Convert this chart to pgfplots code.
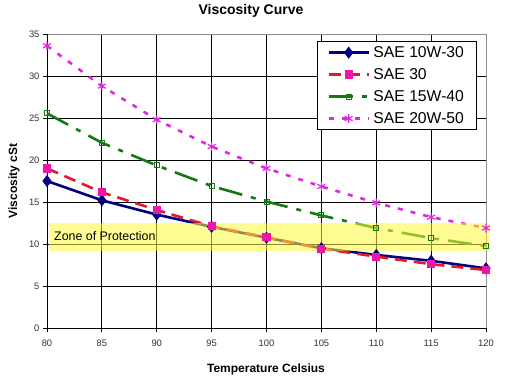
\documentclass[border=0pt]{standalone}
\usepackage{fontspec}
\setmainfont{Liberation Sans}
\usepackage{pgfplots}
\pgfplotsset{compat=1.18}
\definecolor{navyc}{RGB}{0,0,128}
\definecolor{redc}{RGB}{225,25,40}
\definecolor{pinkc}{RGB}{240,20,170}
\definecolor{greenc}{RGB}{20,120,20}
\definecolor{magc}{RGB}{225,40,225}
\definecolor{zonec}{RGB}{255,250,60}
\begin{document}
\begin{tikzpicture}
\path[use as bounding box] (0,0) rectangle (510pt,381pt);
\begin{axis}[
  at={(47pt,53pt)}, anchor=south west,
  scale only axis, width=439pt, height=294pt,
  xmin=80, xmax=120, ymin=0, ymax=35,
  clip=false,
  xtick={80,85,...,115}, extra x ticks={120}, extra x tick style={grid=none},
  ytick={0,5,...,30}, extra y ticks={35}, extra y tick style={grid=none},
  grid=major, grid style={black, line width=0.8pt},
  axis line style={black!45, line width=0.8pt},
  tick style={black, line width=0.8pt},
  tick align=outside, tick pos=left, major tick length=4pt,
  tick label style={font=\fontsize{9.4}{11}\selectfont, color=black!80},
  xticklabel style={yshift=-4pt},
  /pgf/number format/assume math mode=true,
  title={\bfseries Viscosity Curve},
  title style={at={(0.4647,1.058)}, anchor=center, font=\fontsize{14}{16}\selectfont},
  xlabel={\bfseries Temperature Celsius},
  xlabel style={at={(0.4989,-0.1418)}, anchor=center, font=\fontsize{12}{14}\selectfont},
  ylabel={\bfseries Viscosity cSt},
  ylabel style={at={(-0.0752,0.5)}, anchor=center, rotate=0, font=\fontsize{12}{14}\selectfont},
  legend style={at={(0.615,0.9762)}, anchor=north west, draw=black, line width=0.8pt,
    fill=white, font=\fontsize{15.7}{18}\selectfont, inner xsep=10pt, inner ysep=3pt,
    row sep=5.5pt, column sep=1.5pt, nodes={inner xsep=2pt}},
  legend cell align=left,
  legend image code/.code={\draw[mark repeat=2,mark phase=2,#1] plot coordinates {(0pt,0pt)(20pt,0pt)(40pt,0pt)};},
]
\draw[black, line width=0.8pt] (axis cs:80,35) -- (axis cs:80,0) -- (axis cs:120,0);
\addplot[navyc, line width=2.6pt, mark=diamond*, mark size=4pt, mark options={solid, fill=navyc}]
 coordinates {(80,17.5)(85,15.2)(90,13.5)(95,12.05)(100,10.75)(105,9.5)(110,8.7)(115,8.0)(120,7.1)};
\addlegendentry{SAE 10W-30}
\addplot[redc, line width=2.6pt, dash pattern=on 12pt off 7pt, mark=square*, mark size=2.8pt, mark options={solid, fill=pinkc, draw=pinkc}]
 coordinates {(80,19.0)(85,16.15)(90,14.05)(95,12.1)(100,10.8)(105,9.45)(110,8.5)(115,7.6)(120,6.9)};
\addlegendentry{SAE 30}
\addplot[greenc, line width=2.6pt, dash pattern=on 24pt off 9pt on 5pt off 9pt, mark=square, mark size=2.5pt, mark options={solid, line width=1pt, fill=white}]
 coordinates {(80,25.55)(85,22.05)(90,19.35)(95,16.9)(100,15.05)(105,13.4)(110,11.9)(115,10.7)(120,9.75)};
\addlegendentry{SAE 15W-40}
\addplot[magc, line width=2.6pt, dash pattern=on 5pt off 8pt, mark=asterisk, mark size=4.5pt, mark options={solid, line width=1.2pt}]
 coordinates {(80,33.6)(85,28.8)(90,24.8)(95,21.6)(100,19.0)(105,16.85)(110,14.9)(115,13.2)(120,11.9)};
\addlegendentry{SAE 20W-50}
\addplot[draw=none, fill=zonec, fill opacity=0.55, forget plot]
 coordinates {(80.15,9.15)(120.4,9.15)(120.4,12.45)(80.15,12.45)} -- cycle;
\node[anchor=west, inner sep=0pt, font=\fontsize{12.4}{14}\selectfont, xshift=7pt] at (axis cs:80,10.95) {Zone of Protection};
\end{axis}
\end{tikzpicture}
\end{document}
